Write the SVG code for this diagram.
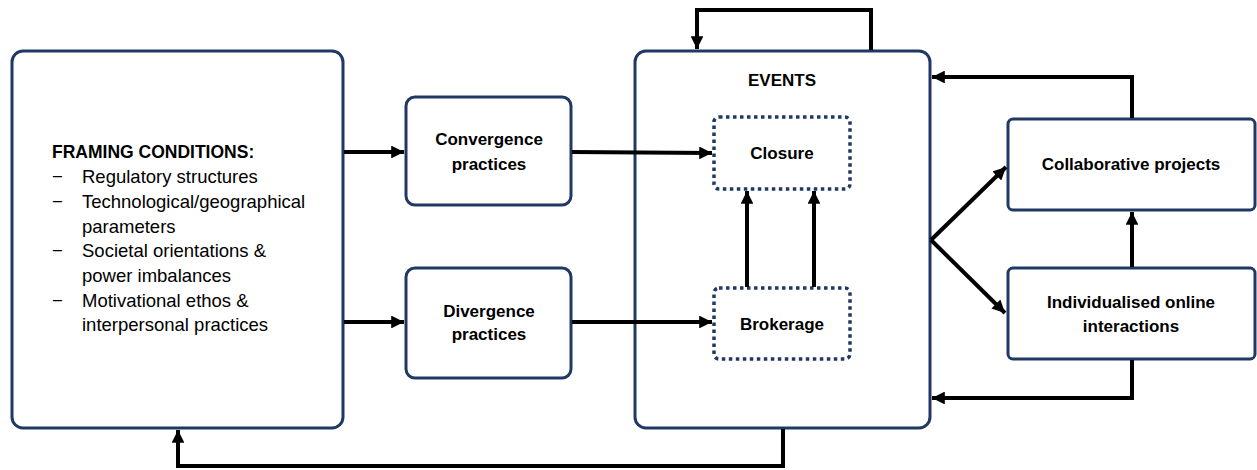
<svg xmlns="http://www.w3.org/2000/svg" width="1257" height="470" viewBox="0 0 1257 470">
<style>
.box{fill:#fff;stroke:#1f3864;stroke-width:3}
.dot{fill:#fff;stroke:#1f3864;stroke-width:3.5;stroke-dasharray:3.5 3.5}
.t{font-family:"Liberation Sans",Arial,sans-serif;font-size:17px;fill:#000}
.b{font-weight:bold}
.c{text-anchor:middle}
.r{font-size:18.5px}
.con{fill:none;stroke:#000;stroke-width:4}
</style>
<defs>
<marker id="ah" viewBox="0 0 10 10" refX="10" refY="5" markerWidth="3.2" markerHeight="3.2" orient="auto" markerUnits="strokeWidth">
<path d="M0,0 L10,5 L0,10 Z" fill="#000"/>
</marker>
</defs>
<g id="framing">
<rect class="box" x="12" y="51" width="331" height="377" rx="11"/>
<text class="t b" x="52" y="158" style="font-size:17.5px">FRAMING CONDITIONS:</text>
<g class="t r">
<text x="52" y="183">−</text><text x="82" y="183">Regulatory structures</text>
<text x="52" y="208">−</text><text x="82" y="208">Technological/geographical</text>
<text x="82" y="233">parameters</text>
<text x="52" y="257">−</text><text x="82" y="257">Societal orientations &amp;</text>
<text x="82" y="282">power imbalances</text>
<text x="52" y="307">−</text><text x="82" y="307">Motivational ethos &amp;</text>
<text x="82" y="331">interpersonal practices</text>
</g>
</g>
<g id="convergence">
<rect class="box" x="406" y="97" width="165" height="108" rx="9"/>
<text class="t b c" x="489" y="145">Convergence</text>
<text class="t b c" x="489" y="170">practices</text>
</g>
<g id="divergence">
<rect class="box" x="406" y="268" width="165" height="110" rx="9"/>
<text class="t b c" x="489" y="317">Divergence</text>
<text class="t b c" x="489" y="340">practices</text>
</g>
<g id="events">
<rect class="box" x="635" y="51" width="295" height="377" rx="11"/>
<text class="t b c" x="782" y="86">EVENTS</text>
</g>
<g id="closure">
<rect class="dot" x="714" y="117" width="136" height="72" rx="5"/>
<text class="t b c" x="782" y="159">Closure</text>
</g>
<g id="brokerage">
<rect class="dot" x="714" y="288" width="136" height="71" rx="5"/>
<text class="t b c" x="782" y="330">Brokerage</text>
</g>
<g id="collaborative">
<rect class="box" x="1008" y="119" width="247" height="91" rx="5"/>
<text class="t b c" x="1131" y="170">Collaborative projects</text>
</g>
<g id="individualised">
<rect class="box" x="1008" y="268" width="247" height="91" rx="5"/>
<text class="t b c" x="1131" y="308">Individualised online</text>
<text class="t b c" x="1131" y="332">interactions</text>
</g>
<g id="connectors">
<path class="con" d="M344,152 H404" marker-end="url(#ah)"/>
<path class="con" d="M344,322 H404" marker-end="url(#ah)"/>
<path class="con" d="M572,152 L712,153" marker-end="url(#ah)"/>
<path class="con" d="M572,322 H712" marker-end="url(#ah)"/>
<path class="con" d="M747,287 V191" marker-end="url(#ah)"/>
<path class="con" d="M814,287 V191" marker-end="url(#ah)"/>
<path class="con" d="M871,50 V10 H697 V49" marker-end="url(#ah)"/>
<path class="con" d="M783,429 V466 H178 V430" marker-end="url(#ah)"/>
<path class="con" d="M931,240 L1006,167" marker-end="url(#ah)"/>
<path class="con" d="M931,240 L1005,313" marker-end="url(#ah)"/>
<path class="con" d="M1132,118 V77 H932" marker-end="url(#ah)"/>
<path class="con" d="M1132,267 V212" marker-end="url(#ah)"/>
<path class="con" d="M1132,360 V398 H932" marker-end="url(#ah)"/>
</g>
</svg>
